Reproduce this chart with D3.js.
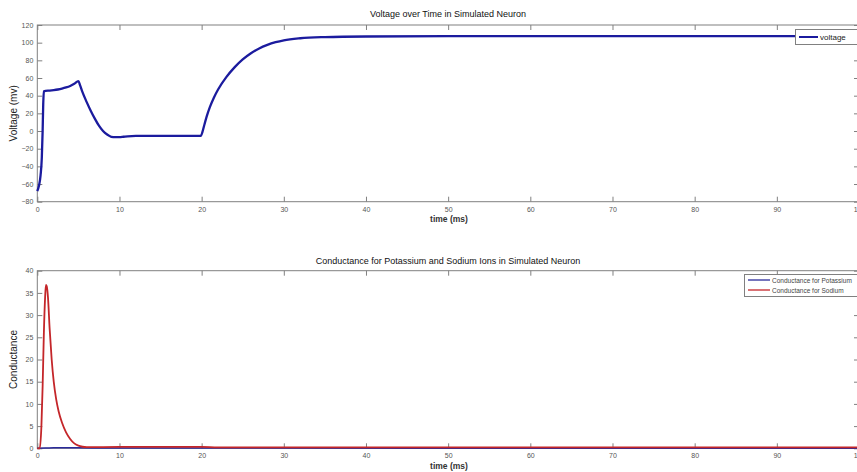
<!DOCTYPE html>
<html><head><meta charset="utf-8">
<script src="https://cdn.jsdelivr.net/npm/d3@7"></script>
<style>
html,body{margin:0;padding:0;background:#fff;overflow:hidden}
text{font-family:"Liberation Sans",Arial,sans-serif}
</style></head>
<body><svg id="c" width="857" height="472"></svg>
<script>
// ---- data ----
const voltTime = [0,0.2,0.4,0.55,0.65,0.72,0.8,1,1.5,2,2.5,3,3.5,4,4.5,5,5.2,5.5,6,6.5,7,7.5,8,8.5,9,9.5,10,10.5,11,12,15,19.9,20.1,20.3,20.6,21,21.5,22,23,24,25,26,27,28,29,30,32,35,40,50,100];
const voltage  = [-68,-62,-50,-30,0,30,45,45.5,45.8,46.3,47,48,49.3,51,53.5,56.5,52,44,33,23,14,6,0,-4,-6.5,-7,-7,-6.5,-6,-5.5,-5.5,-5.5,-1,6,16,27,38,47,61,72,81,88,93.5,97.5,100.5,102.7,105,106.3,107,107.3,107.3];
const condTime = [0,0.3,0.5,0.65,0.8,0.95,1.05,1.15,1.3,1.5,1.75,2,2.3,2.6,3,3.5,4,4.5,5,5.5,6,10,20,22,30,100];
const sodium   = [0,0,5,14,26,34,36.8,36.5,34,27,20,15,11,8.3,5.8,3.6,2.1,1.1,0.6,0.35,0.25,0.3,0.3,0.2,0.2,0.2];
const potTime  = [0,1,2,3,5,10,100];
const potassium= [0,0.05,0.12,0.15,0.12,0.05,0.02];
const xTicks = [0,10,20,30,40,50,60,70,80,90,100];
const vTicks = [120,100,80,60,40,20,0,-20,-40,-60,-80];
const cTicks = [0,5,10,15,20,25,30,35,40];

const svg = d3.select("#c");
const x = d3.scaleLinear().domain([0,100]).range([37.3,859]);
const AX="#808080", LBL="#555";

function panel(y, ticks, title, titleY, ylabel, xlabelY){
  const g = svg.append("g");
  g.append("rect").attr("x",x(0)).attr("y",y.range()[1]).attr("width",x(100)-x(0))
   .attr("height",y.range()[0]-y.range()[1]).attr("fill","none").attr("stroke",AX).attr("stroke-width",1);
  const tl=5;
  const gb=g.append("g").attr("transform",`translate(0,${y.range()[0]})`).call(d3.axisBottom(x).tickValues(xTicks).tickSize(-tl).tickPadding(5).tickFormat(d3.format("d")));
  const gt=g.append("g").attr("transform",`translate(0,${y.range()[1]})`).call(d3.axisTop(x).tickValues(xTicks).tickSize(-tl).tickFormat(""));
  const gl=g.append("g").attr("transform",`translate(${x(0)},0)`).call(d3.axisLeft(y).tickValues(ticks).tickSize(-tl).tickPadding(4).tickFormat(d3.format("d")));
  const gr=g.append("g").attr("transform",`translate(${x(100)},0)`).call(d3.axisRight(y).tickValues(ticks).tickSize(-tl).tickFormat(""));
  [gb,gt,gl,gr].forEach(s=>{
    s.select(".domain").remove();
    s.selectAll("line").attr("stroke",AX);
    s.selectAll("text").attr("fill",LBL).style("font-size","7px");
  });
  g.append("text").attr("x",448).attr("y",titleY).attr("text-anchor","middle").style("font-size","9px").attr("fill","#111").text(title);
  g.append("text").attr("x",449).attr("y",xlabelY).attr("text-anchor","middle").style("font-size","8.5px").style("font-weight","bold").attr("fill","#333").text("time (ms)");
  const cy=(y.range()[0]+y.range()[1])/2;
  g.append("text").attr("transform",`translate(17,${cy}) rotate(-90)`).attr("text-anchor","middle").style("font-size","10px").attr("fill","#222").text(ylabel);
}

// top panel
const yV = d3.scaleLinear().domain([-80,120]).range([201.7,25]);
panel(yV, vTicks, "Voltage over Time in Simulated Neuron", 17, "Voltage (mv)", 222);
const vData = voltTime.map((t,i)=>[t,voltage[i]]);
svg.append("path").datum(vData).attr("fill","none").attr("stroke","#1b1b9e").attr("stroke-width",2.3)
  .attr("d",d3.line().x(d=>x(d[0])).y(d=>yV(d[1])).curve(d3.curveMonotoneX));
const lg1=svg.append("g");
lg1.append("rect").attr("x",795.5).attr("y",29.5).attr("width",70).attr("height",15).attr("fill","#fff").attr("stroke",AX);
lg1.append("line").attr("x1",799).attr("x2",818).attr("y1",37).attr("y2",37).attr("stroke","#1b1b9e").attr("stroke-width",2);
lg1.append("text").attr("x",820).attr("y",40).style("font-size","8px").attr("fill","#222").text("voltage");

// bottom panel
const yC = d3.scaleLinear().domain([0,40]).range([448.3,270.7]);
panel(yC, cTicks, "Conductance for Potassium and Sodium Ions in Simulated Neuron", 264, "Conductance", 469);
const kData = potTime.map((t,i)=>[t,potassium[i]]);
const naData = condTime.map((t,i)=>[t,sodium[i]]);
svg.append("path").datum(kData).attr("fill","none").attr("stroke","#2a2a9a").attr("stroke-width",1.5)
  .attr("d",d3.line().x(d=>x(d[0])).y(d=>yC(d[1])).curve(d3.curveMonotoneX));
svg.append("path").datum(naData).attr("fill","none").attr("stroke","#c4262a").attr("stroke-width",1.8)
  .attr("d",d3.line().x(d=>x(d[0])).y(d=>yC(d[1])).curve(d3.curveMonotoneX));
const lg2=svg.append("g");
lg2.append("rect").attr("x",744.5).attr("y",274.5).attr("width",120).attr("height",22).attr("fill","#fff").attr("stroke",AX);
lg2.append("line").attr("x1",748).attr("x2",770).attr("y1",280).attr("y2",280).attr("stroke","#2a2a9a").attr("stroke-width",1.3);
lg2.append("text").attr("x",772).attr("y",282.5).style("font-size","6.5px").attr("fill","#444").text("Conductance for Potassium");
lg2.append("line").attr("x1",748).attr("x2",770).attr("y1",290).attr("y2",290).attr("stroke","#c4262a").attr("stroke-width",1.3);
lg2.append("text").attr("x",772).attr("y",292.5).style("font-size","6.5px").attr("fill","#444").text("Conductance for Sodium");
</script></body></html>
